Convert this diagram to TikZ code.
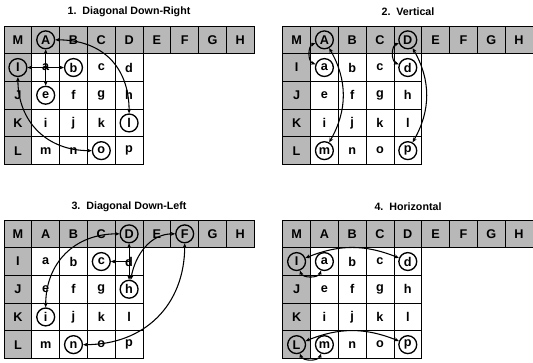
\documentclass[tikz,border=0pt]{standalone}
\usepackage{fontspec}
\setmainfont{Liberation Sans}
\usetikzlibrary{arrows.meta, positioning, calc}
\definecolor{edgegray}{HTML}{B8B8B8}

\tikzset{
    cell/.style={draw=black, line width=0.6pt, minimum width=20.85pt, minimum height=20.78pt,
        inner sep=0pt, font=\fontsize{9.5}{9.5}\selectfont\bfseries},
    edgecell/.style={cell, fill=edgegray},
    incell/.style={cell, fill=white},
    ring/.style={circle, draw=black, line width=1pt, minimum size=13.4pt, inner sep=0pt},
    link/.style={{Stealth[length=3.5pt,width=3pt]}-{Stealth[length=3.5pt,width=3pt]}, line width=0.8pt},
    ray/.style={-{Stealth[length=3.5pt,width=3pt]}, line width=0.8pt},
    paneltitle/.style={font=\fontsize{8}{9}\selectfont\bfseries}
}

% one 4x4 block with its neighbours: #1 prefix, (#2,#3) top left corner
\newcommand{\lumagrid}[3]{
    \foreach \l [count=\i from 0] in {M,A,B,C,D,E,F,G,H}
        \node[edgecell] (#1-\l) at ({#2+27.8*(\i+0.5)}, {#3+13.85}) {\l};
    \foreach \l [count=\j from 1] in {I,J,K,L}
        \node[edgecell] (#1-\l) at ({#2+13.9}, {#3+27.7*(\j+0.5)}) {\l};
    \foreach \l [count=\k from 0] in {a,b,c,d,e,f,g,h,i,j,k,l,m,n,o,p} {
        \pgfmathtruncatemacro{\row}{div(\k,4)+1}
        \pgfmathtruncatemacro{\col}{mod(\k,4)+1}
        \node[incell] (#1-\l) at ({#2+27.8*(\col+0.5)}, {#3+27.7*(\row+0.5)}) {\l};
    }
}

\begin{document}
\begin{tikzpicture}[x=0.75pt, y=-0.75pt]
    \useasboundingbox (0,0) rectangle (533,363);
    % === 1. Diagonal Down-Right ===
    \node[paneltitle] (t1) at (129, 12) {1.\ \ Diagonal Down-Right};
    \lumagrid{p1}{4}{26}
    \foreach \l in {A,I,b,e,l,o}
        \node[ring] (p1-r\l) at (p1-\l) {};
    \draw[ray] (p1-a.center) -- (p1-rA);
    \draw[ray] (p1-a.center) -- (p1-rI);
    \draw[ray] (p1-a.center) -- (p1-rb);
    \draw[ray] (p1-a.center) -- (p1-re);
    \draw[link] (p1-rA) to[out=0, in=90, looseness=1.15] (p1-rl);
    \draw[link] (p1-rI) to[out=-90, in=180, looseness=1.1] (p1-ro);
    % === 2. Vertical ===
    \node[paneltitle] (t2) at (408, 12) {2.\ \ Vertical};
    \lumagrid{p2}{282.7}{26}
    \foreach \l in {A,D,a,d,m,p}
        \node[ring] (p2-r\l) at (p2-\l) {};
    \draw[link] (p2-rA) to[bend right=70] (p2-ra);
    \draw[link] (p2-rA) to[bend left=30] (p2-rm);
    \draw[link] (p2-rD) to[bend right=70] (p2-rd);
    \draw[link] (p2-rD) to[bend left=30] (p2-rp);
    % === 3. Diagonal Down-Left ===
    \node[paneltitle] (t3) at (129, 207) {3.\ \ Diagonal Down-Left};
    \lumagrid{p3}{4}{220}
    \foreach \l in {D,F,c,h,i,n}
        \node[ring] (p3-r\l) at (p3-\l) {};
    \draw[link] (p3-rD) to[out=180, in=90, looseness=1.1] (p3-ri);
    \draw[ray] (p3-d.center) -- (p3-rD);
    \draw[ray] (p3-d.center) -- (p3-rc);
    \draw[ray] (p3-d.center) -- (p3-rh);
    \draw[link] (p3-rF) to[out=180, in=80] (p3-rh);
    \draw[link] (p3-rF) to[out=-90, in=0, looseness=1.1] (p3-rn);
    % === 4. Horizontal ===
    \node[paneltitle] (t4) at (408, 207) {4.\ \ Horizontal};
    \lumagrid{p4}{282.7}{220}
    \foreach \l in {I,L,a,d,m,p}
        \node[ring] (p4-r\l) at (p4-\l) {};
    \draw[link] (p4-rI) to[bend left=22] (p4-rd);
    \draw[link] (p4-rI) to[bend right=70] (p4-ra);
    \draw[link] (p4-rL) to[bend left=22] (p4-rp);
    \draw[link] (p4-rL) to[bend right=70] (p4-rm);
\end{tikzpicture}
\end{document}
